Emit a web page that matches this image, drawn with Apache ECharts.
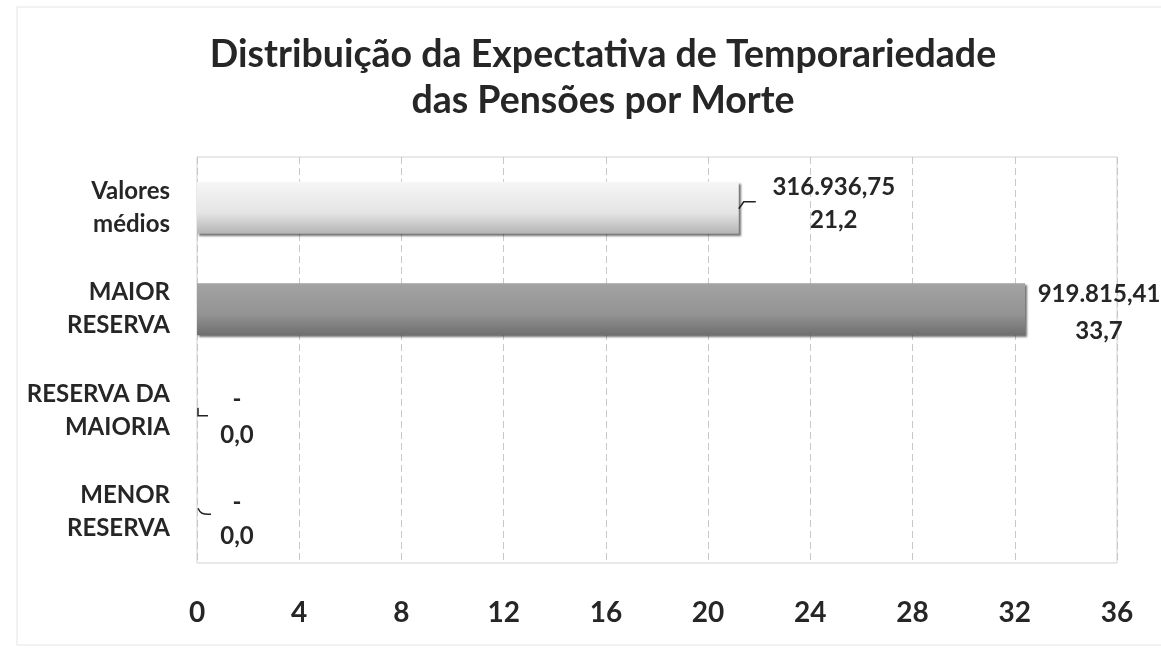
<!DOCTYPE html>
<html>
<head>
<meta charset="utf-8">
<title>Distribuição da Expectativa de Temporariedade</title>
<script src="https://cdn.jsdelivr.net/npm/echarts@6/dist/echarts.min.js"></script>
<style>
  html, body { margin: 0; padding: 0; background: #fff; }
  #chart { width: 1161px; height: 655px; }
</style>
</head>
<body>
<div id="chart"></div>
<script>
// categories top to bottom
var categories = ['Valores\nmédios', 'MAIOR\nRESERVA', 'RESERVA DA\nMAIORIA', 'MENOR\nRESERVA'];
// bar lengths as drawn (years)
var barValues = [21.2, 32.4, 0, 0];
// data label texts
var reserveLabels = ['316.936,75', '919.815,41', '-', '-'];
var yearLabels = ['21,2', '33,7', '0,0', '0,0'];
var xTicks = [0, 4, 8, 12, 16, 20, 24, 28, 32, 36];
// bars whose label has a small leader tick
var leaderIdx = [0, 2, 3];

var font = 'Lato';
var textColor = '#262626';

var barColors = [
  new echarts.graphic.LinearGradient(0, 0, 0, 1, [
    {offset: 0, color: '#f6f6f6'},
    {offset: 0.6, color: '#e4e4e4'},
    {offset: 1, color: '#b4b4b4'}
  ]),
  new echarts.graphic.LinearGradient(0, 0, 0, 1, [
    {offset: 0, color: '#a3a3a3'},
    {offset: 0.6, color: '#939393'},
    {offset: 1, color: '#6e6e6e'}
  ])
];
// distance from bar end to label centre, and vertical nudge
var labelDist = [95, 74, 40, 40];
var labelNudge = [-4, 4, 7, 7];
var labelLineH = [33, 37, 36, 34];

var items = [];
for (var i = 0; i < barValues.length; i++) {
  items.push({
    value: barValues[i],
    itemStyle: {color: barColors[i] || '#cccccc'},
    label: {distance: labelDist[i], offset: [0, labelNudge[i]], lineHeight: labelLineH[i]}
  });
}

var leaderData = leaderIdx.map(function (k) { return [barValues[k], k]; });

// leader tick shapes, relative to the bar end
var leaderShapes = {
  0: [[0, 1], [5, -6], [17, -6]],
  2: [[1, -3], [1, 5], [11, 5]],
  3: [[1, -4], [5, 1], [14, 2]]
};

function renderLeader(params, api) {
  var k = api.value(1);
  var end = api.coord([api.value(0), k]);
  var pts = leaderShapes[k].map(function (p) { return [end[0] + p[0], end[1] + p[1]]; });
  return {
    type: 'polyline',
    shape: {points: pts, smooth: k === 3 ? 0.4 : 0},
    style: {stroke: '#222', lineWidth: 1.5, fill: null}
  };
}

var chart = echarts.init(document.getElementById('chart'));

var option = {
  backgroundColor: '#ffffff',
  animation: false,
  title: {
    text: 'Distribuição da Expectativa de Temporariedade\ndas Pensões por Morte',
    left: 598,
    top: 27,
    textAlign: 'center',
    textStyle: {
      fontFamily: font,
      fontSize: 37.5,
      fontWeight: 'bold',
      lineHeight: 46,
      color: textColor
    }
  },
  graphic: [{
    type: 'rect',
    shape: {x: 17, y: 7, width: 1170, height: 638},
    style: {fill: 'none', stroke: '#e4e4e4', lineWidth: 1},
    silent: true
  }],
  grid: {
    left: 197,
    right: 44,
    top: 157,
    bottom: 92,
    show: true,
    borderColor: '#d2d2d2',
    borderWidth: 1
  },
  xAxis: {
    type: 'value',
    min: xTicks[0],
    max: xTicks[xTicks.length - 1],
    interval: xTicks[1] - xTicks[0],
    axisLine: {show: false},
    axisTick: {show: false},
    splitLine: {show: true, lineStyle: {color: '#c8c8c8', type: [7, 4], width: 1}},
    axisLabel: {
      margin: 36,
      fontFamily: font,
      fontSize: 28,
      fontWeight: 'bold',
      color: textColor
    }
  },
  yAxis: {
    type: 'category',
    inverse: true,
    data: categories,
    axisLine: {show: false},
    axisTick: {show: false},
    axisLabel: {
      margin: 27,
      fontFamily: font,
      fontSize: 24,
      lineHeight: 33,
      fontWeight: 'bold',
      color: textColor,
      align: 'right'
    }
  },
  series: [{
    type: 'bar',
    data: items,
    barWidth: 52,
    itemStyle: {
      shadowColor: 'rgba(0,0,0,0.55)',
      shadowBlur: 2,
      shadowOffsetX: 2,
      shadowOffsetY: 2
    },
    label: {
      show: true,
      position: 'right',
      align: 'center',
      fontFamily: font,
      fontSize: 24,
      fontWeight: 'bold',
      color: textColor,
      formatter: function (p) {
        return reserveLabels[p.dataIndex] + '\n' + yearLabels[p.dataIndex];
      }
    }
  }, {
    type: 'custom',
    renderItem: renderLeader,
    data: leaderData,
    encode: {x: 0, y: 1},
    silent: true,
    z: 3
  }]
};

chart.setOption(option);
</script>
</body>
</html>
